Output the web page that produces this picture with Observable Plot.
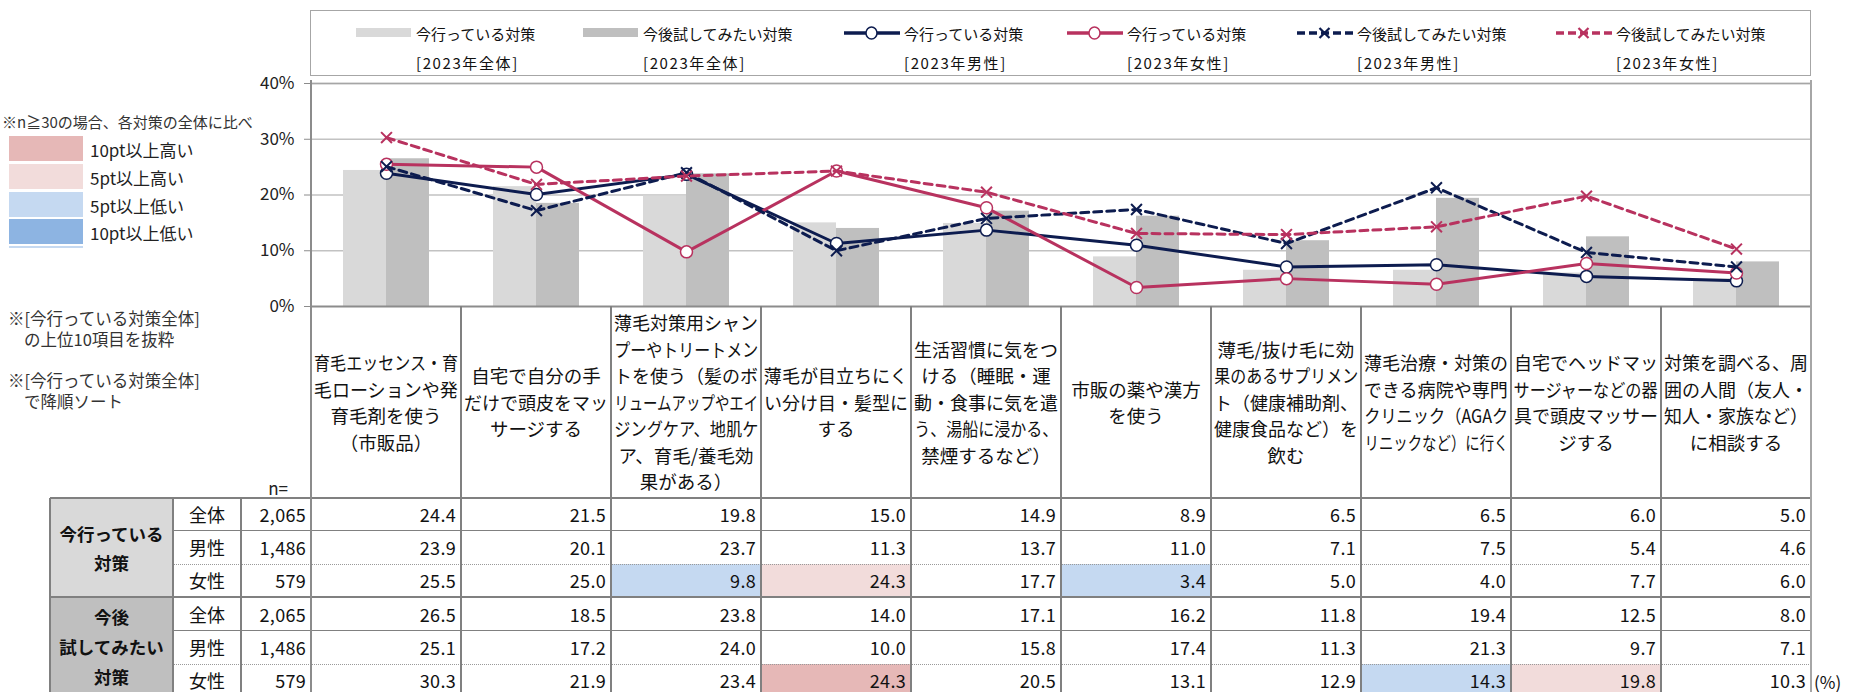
<!DOCTYPE html>
<html><head><meta charset="utf-8">
<script src="https://cdn.jsdelivr.net/npm/d3@7"></script>
<script src="https://cdn.jsdelivr.net/npm/@observablehq/plot@0.6"></script>
<style>
body{margin:0;background:#fff;font-family:"Noto Sans CJK JP","Noto Sans",sans-serif;color:#111;}
#root{position:relative;width:1850px;height:692px;overflow:hidden;}
#root svg{position:absolute;left:0;top:0;}
</style></head><body><div id="root"></div>
<script>
// ---------------- data ----------------
const categoryLines = [
  ["育毛エッセンス・育","毛ローションや発","育毛剤を使う","（市販品）"],
  ["自宅で自分の手","だけで頭皮をマッ","サージする"],
  ["薄毛対策用シャン","プーやトリートメン","トを使う（髪のボ","リュームアップやエイ","ジングケア、地肌ケ","ア、育毛/養毛効","果がある）"],
  ["薄毛が目立ちにく","い分け目・髪型に","する"],
  ["生活習慣に気をつ","ける（睡眠・運","動・食事に気を遣","う、湯船に浸かる、","禁煙するなど）"],
  ["市販の薬や漢方","を使う"],
  ["薄毛/抜け毛に効","果のあるサプリメン","ト（健康補助剤、","健康食品など）を","飲む"],
  ["薄毛治療・対策の","できる病院や専門","クリニック（AGAク","リニックなど）に行く"],
  ["自宅でヘッドマッ","サージャーなどの器","具で頭皮マッサー","ジする"],
  ["対策を調べる、周","囲の人間（友人・","知人・家族など）","に相談する"]
];
const categories = categoryLines.map(l => l.join(""));

const nowAll      = [24.4, 21.5, 19.8, 15.0, 14.9,  8.9,  6.5,  6.5,  6.0,  5.0];
const nowMale     = [23.9, 20.1, 23.7, 11.3, 13.7, 11.0,  7.1,  7.5,  5.4,  4.6];
const nowFemale   = [25.5, 25.0,  9.8, 24.3, 17.7,  3.4,  5.0,  4.0,  7.7,  6.0];
const futureAll   = [26.5, 18.5, 23.8, 14.0, 17.1, 16.2, 11.8, 19.4, 12.5,  8.0];
const futureMale  = [25.1, 17.2, 24.0, 10.0, 15.8, 17.4, 11.3, 21.3,  9.7,  7.1];
const futureFemale= [30.3, 21.9, 23.4, 24.3, 20.5, 13.1, 12.9, 14.3, 19.8, 10.3];

// highlight level vs 全体: 2 = 10pt以上高い, 1 = 5pt以上高い, -1 = 5pt以上低い, -2 = 10pt以上低い
const nowFemaleHighlight    = [0, 0, -1, 1, 0, -1, 0, 0, 0, 0];
const futureFemaleHighlight = [0, 0, 0, 2, 0, 0, 0, -1, 1, 0];

const groupLabels = [["今行っている","対策"], ["今後","試してみたい","対策"]];
const rowLabels = ["全体", "男性", "女性"];
const sampleSizes = ["2,065", "1,486", "579"];
const yTicks = [0, 10, 20, 30, 40];

const legendLabels = [
  ["今行っている対策", "[2023年全体]"],
  ["今後試してみたい対策", "[2023年全体]"],
  ["今行っている対策", "[2023年男性]"],
  ["今行っている対策", "[2023年女性]"],
  ["今後試してみたい対策", "[2023年男性]"],
  ["今後試してみたい対策", "[2023年女性]"]
];
const highlightLegendLabels = ["10pt以上高い", "5pt以上高い", "5pt以上低い", "10pt以上低い"];
const noteTop = "※n≧30の場合、各対策の全体に比べ";
const notes = [["※[今行っている対策全体]", "の上位10項目を抜粋"], ["※[今行っている対策全体]", "で降順ソート"]];

// ---------------- styles ----------------
const NAVY = "#0d1c4f", PINK = "#b8325f", LIGHT = "#d9d9d9", DARK = "#bfbfbf";
const HL = {"2": "#e6b8b7", "1": "#f2dcdb", "-1": "#c5d9f1", "-2": "#8db4e2"};
const GRIDC = "#8c8c8c";
const FONT = '"Noto Sans CJK JP","Noto Sans",sans-serif';

const series = arr => categories.map((cat, i) => ({cat, v: arr[i]}));

const chart = Plot.plot({
  width: 1850, height: 692,
  marginLeft: 310, marginRight: 39, marginTop: 83, marginBottom: 386,
  style: {fontFamily: FONT, fontSize: "17px", background: "transparent", color: "#222"},
  x: {domain: categories, padding: 0, axis: null},
  y: {domain: [0, 40], axis: null},
  marks: [
    Plot.gridY(yTicks.slice(1), {stroke: "#c2c2c2", strokeOpacity: 1, strokeWidth: 1.5}),
    Plot.barY(series(nowAll), {x: "cat", y: "v", fill: LIGHT, insetLeft: 32, insetRight: 75}),
    Plot.barY(series(futureAll), {x: "cat", y: "v", fill: DARK, insetLeft: 75, insetRight: 32}),
    Plot.ruleY([40], {stroke: "#a6a6a6", strokeWidth: 1.5}),
    Plot.ruleY([0], {stroke: GRIDC, strokeWidth: 2}),
    Plot.axisY({ticks: yTicks, tickFormat: d => d + "%", label: null, tickSize: 6, tickPadding: 10, fontSize: 17, stroke: GRIDC, fill: "#222"}),
    Plot.lineY(series(nowMale), {x: "cat", y: "v", stroke: NAVY, strokeWidth: 3}),
    Plot.dot(series(nowMale), {x: "cat", y: "v", r: 6, fill: "white", stroke: NAVY, strokeWidth: 1.5}),
    Plot.lineY(series(nowFemale), {x: "cat", y: "v", stroke: PINK, strokeWidth: 3}),
    Plot.dot(series(nowFemale), {x: "cat", y: "v", r: 6, fill: "white", stroke: PINK, strokeWidth: 1.5}),
    Plot.lineY(series(futureMale), {x: "cat", y: "v", stroke: NAVY, strokeWidth: 3, strokeDasharray: "8,5"}),
    Plot.dot(series(futureMale), {x: "cat", y: "v", r: 5, symbol: "times", stroke: NAVY, strokeWidth: 2}),
    Plot.lineY(series(futureFemale), {x: "cat", y: "v", stroke: PINK, strokeWidth: 3, strokeDasharray: "8,5"}),
    Plot.dot(series(futureFemale), {x: "cat", y: "v", r: 5, symbol: "times", stroke: PINK, strokeWidth: 2})
  ]
});
const root = document.getElementById("root");
root.appendChild(chart);

// ---------------- overlay helpers ----------------
function el(tag, css, text) {
  const e = document.createElement(tag);
  e.style.cssText = css;
  if (text != null) e.textContent = text;
  root.appendChild(e);
  return e;
}
function hline(x1, x2, y, w, color, dotted) {
  el("div", `position:absolute;left:${x1}px;top:${y - w / 2}px;width:${x2 - x1}px;height:0;border-top:${w}px ${dotted ? "dotted" : "solid"} ${color};`);
}
function vline(x, y1, y2, w, color) {
  el("div", `position:absolute;left:${x - w / 2}px;top:${y1}px;width:0;height:${y2 - y1}px;border-left:${w}px solid ${color};`);
}
function textAt(x, yc, txt, css) {
  return el("div", `position:absolute;left:${x}px;top:${yc}px;transform:translateY(-50%);white-space:nowrap;line-height:1;${css || ""}`, txt);
}

// ---------------- scales for overlay ----------------
const xs = chart.scale("x");
const ysc = chart.scale("y");
const bw = xs.bandwidth;
const bandLeft = c => xs.apply(c);
const plotLeft = bandLeft(categories[0]);
const plotRight = bandLeft(categories[categories.length - 1]) + bw;
const axisY0 = ysc.apply(0), axisY40 = ysc.apply(40);

// ---------------- legend box ----------------
el("div", `position:absolute;left:${plotLeft - 1}px;top:10px;width:${plotRight - plotLeft + 1}px;height:66px;border:1.5px solid #a6a6a6;box-sizing:border-box;background:#fff;`);
const legendX = [356, 583, 844, 1067, 1297, 1556];
const legendKinds = [
  {kind: "bar", color: LIGHT}, {kind: "bar", color: DARK},
  {kind: "line", color: NAVY, dash: false}, {kind: "line", color: PINK, dash: false},
  {kind: "line", color: NAVY, dash: true}, {kind: "line", color: PINK, dash: true}
];
legendLabels.forEach((lab, i) => {
  const x = legendX[i], k = legendKinds[i];
  if (k.kind === "bar") {
    el("div", `position:absolute;left:${x}px;top:28px;width:55px;height:9px;background:${k.color};`);
  } else {
    const s = document.createElementNS("http://www.w3.org/2000/svg", "svg");
    s.setAttribute("width", 60); s.setAttribute("height", 20);
    s.style.cssText = `position:absolute;left:${x - 2}px;top:23px;`;
    const marker = k.dash
      ? `<path d="M24.5,5L34.5,15M34.5,5L24.5,15" stroke="${k.color}" stroke-width="2.2" fill="none"/>`
      : `<ellipse cx="29.5" cy="10" rx="5.5" ry="6" fill="white" stroke="${k.color}" stroke-width="1.5"/>`;
    s.innerHTML = `<line x1="2" y1="10" x2="58" y2="10" stroke="${k.color}" stroke-width="3.5" ${k.dash ? 'stroke-dasharray="8,4"' : ""}/>` + marker;
    root.appendChild(s);
  }
  const t = el("div", `position:absolute;left:${x + 60}px;top:19px;font-size:15px;line-height:29px;color:#111;white-space:nowrap;`);
  t.innerHTML = lab[0] + `<br><span style="letter-spacing:1.6px">${lab[1]}</span>`;
});

// ---------------- left notes ----------------
textAt(2, 121, noteTop, "font-size:15px;color:#333;");
const swTop = [136, 164, 192, 219];
const hlKeys = ["2", "1", "-1", "-2"];
highlightLegendLabels.forEach((t, i) => {
  el("div", `position:absolute;left:9px;top:${swTop[i]}px;width:74px;height:25px;background:${HL[hlKeys[i]]};`);
  textAt(90, swTop[i] + 13, t, "font-size:17px;color:#222;");
});
el("div", `position:absolute;left:9px;top:246px;width:74px;height:2px;background:#c5d9f1;`);
[[308, notes[0]], [370, notes[1]]].forEach(([top, pair]) => {
  const d = el("div", `position:absolute;left:8px;top:${top}px;font-size:16.5px;line-height:20.5px;color:#333;white-space:nowrap;`);
  d.innerHTML = `${pair[0]}<br><span style="margin-left:16px">${pair[1]}</span>`;
});
el("div", `position:absolute;left:238px;top:477px;width:50px;text-align:right;font-size:17px;line-height:22px;color:#222;`, "n=");

// ---------------- category label cells ----------------
const tableTop = 498, rowH = 33.2;
const labelEls = [];
categories.forEach((c, i) => {
  const x = bandLeft(c);
  const cell = el("div", `position:absolute;left:${x}px;top:${axisY0}px;width:${bw}px;height:${tableTop - axisY0}px;display:flex;flex-direction:column;justify-content:center;align-items:center;font-size:18.5px;line-height:26.5px;color:#111;`);
  categoryLines[i].forEach(t => {
    const s = document.createElement("span");
    s.textContent = t;
    s.style.cssText = "white-space:nowrap;display:inline-block;";
    cell.appendChild(s);
    labelEls.push(s);
  });
});
labelEls.forEach(s => {
  const w = s.getBoundingClientRect().width;
  const maxW = bw - 6;
  if (w > maxW) s.style.transform = `scaleX(${(maxW / w).toFixed(3)})`;
});

// ---------------- table ----------------
const tableRows = [
  {vals: nowAll, hl: null}, {vals: nowMale, hl: null}, {vals: nowFemale, hl: nowFemaleHighlight},
  {vals: futureAll, hl: null}, {vals: futureMale, hl: null}, {vals: futureFemale, hl: futureFemaleHighlight}
];
const colG0 = 50, colG1 = 173, colG2 = 241;
const groupBg = [LIGHT, DARK];
groupLabels.forEach((g, gi) => {
  const top = tableTop + gi * 3 * rowH;
  const d = el("div", `position:absolute;left:${colG0}px;top:${top}px;width:${colG1 - colG0}px;height:${3 * rowH}px;background:${groupBg[gi]};display:flex;flex-direction:column;justify-content:center;align-items:center;font-size:17.5px;font-weight:bold;line-height:${gi === 0 ? 29 : 30}px;color:#111;text-align:center;`);
  d.innerHTML = g.join("<br>");
});
tableRows.forEach((r, ri) => {
  const top = tableTop + ri * rowH;
  el("div", `position:absolute;left:${colG1}px;top:${top}px;width:${colG2 - colG1}px;height:${rowH}px;line-height:${rowH}px;text-align:center;font-size:18px;color:#111;`, rowLabels[ri % 3]);
  el("div", `position:absolute;left:${colG2}px;top:${top}px;width:${plotLeft - colG2 - 5}px;height:${rowH}px;line-height:${rowH}px;text-align:right;font-size:18px;letter-spacing:0.3px;color:#111;`, sampleSizes[ri % 3]);
  categories.forEach((c, ci) => {
    const x = bandLeft(c);
    const lvl = r.hl ? r.hl[ci] : 0;
    const bg = lvl ? HL[String(lvl)] : "transparent";
    el("div", `position:absolute;left:${x}px;top:${top}px;width:${bw}px;height:${rowH}px;background:${bg};line-height:${rowH}px;text-align:right;box-sizing:border-box;padding-right:5px;font-size:18px;letter-spacing:0.3px;color:#111;`, r.vals[ci].toFixed(1));
  });
});
textAt(plotRight + 3, tableTop + 5.5 * rowH, "(%)", "font-size:17px;color:#111;");

// grid lines of table
const LC = "#808080";
hline(colG0, plotRight, tableTop, 2, LC);
for (let ri = 1; ri < 7; ri++) {
  const y = tableTop + ri * rowH;
  if (ri === 3) hline(colG0, plotRight, y, 2.5, LC);
  else if (ri === 2 || ri === 5) hline(colG1, plotRight, y, 1, "#9a9a9a", true);
  else hline(colG1, plotRight, y, 1.5, LC);
}
vline(colG0, tableTop, 700, 2, LC);
vline(colG1, tableTop, 700, 2, LC);
vline(colG2, tableTop, 700, 2, LC);
vline(plotLeft, axisY40 - 3, 700, 2, GRIDC);
categories.forEach((c, i) => { if (i > 0) vline(bandLeft(c), axisY0, 700, 2, LC); });
vline(plotRight, axisY40 - 3, 700, 2, "#a6a6a6");
</script></body></html>
